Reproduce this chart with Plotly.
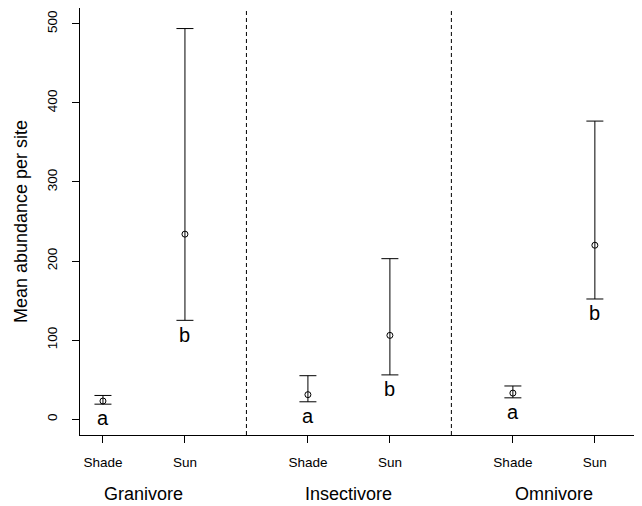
import plotly.graph_objects as go

# Data
groups = ["Granivore", "Insectivore", "Omnivore"]
habitats = ["Shade", "Sun", "Shade", "Sun", "Shade", "Sun"]
x_pos = [1, 2, 3.5, 4.5, 6, 7]
means = [23, 234, 31, 106, 33, 220]
upper = [30, 494, 55, 203, 42, 377]
lower = [19, 125, 22, 56, 27, 152]
letters = ["a", "b", "a", "b", "a", "b"]
group_centers = [1.5, 4.0, 6.5]
dividers = [2.75, 5.25]

FONT = "Liberation Sans, Arial, sans-serif"

fig = go.Figure()
fig.add_trace(go.Scatter(
    x=x_pos, y=means, mode="markers",
    marker=dict(symbol="circle-open", size=6, color="black", line=dict(width=1, color="black")),
    error_y=dict(type="data", symmetric=False,
                 array=[u - m for u, m in zip(upper, means)],
                 arrayminus=[m - l for m, l in zip(means, lower)],
                 color="black", thickness=1, width=8.5),
    showlegend=False, hoverinfo="skip",
))

for xv in dividers:
    fig.add_shape(type="line", xref="x", yref="paper", x0=xv, x1=xv, y0=0, y1=1,
                  line=dict(color="black", width=1, dash="4px,3px"))

for xv, lo, lt in zip(x_pos, lower, letters):
    fig.add_annotation(x=xv, y=lo - 18, text=lt, showarrow=False, xref="x", yref="y",
                       font=dict(size=20, color="black", family=FONT), yanchor="middle")

for xv, g in zip(group_centers, groups):
    fig.add_annotation(x=xv, y=-0.138, text=g, showarrow=False, xref="x", yref="paper",
                       font=dict(size=18, color="black", family=FONT), yanchor="middle")

fig.update_layout(
    width=634, height=498,
    margin=dict(l=72, r=0, t=0, b=71),
    plot_bgcolor="white", paper_bgcolor="white",
    font=dict(family=FONT, color="black"),
    xaxis=dict(range=[0.72, 7.575], tickvals=x_pos, ticktext=habitats,
               showgrid=False, zeroline=False, showline=True, mirror=True,
               linecolor="black", linewidth=1, ticks="outside", ticklen=7,
               tickcolor="black", tickfont=dict(size=13.5, family=FONT),
               ticklabelstandoff=8),
    yaxis=dict(range=[-20, 520], tickvals=[0, 100, 200, 300, 400, 500],
               showgrid=False, zeroline=False, showline=True, mirror=False,
               linecolor="black", linewidth=1, ticks="outside", ticklen=7,
               tickcolor="black", tickangle=-90, tickfont=dict(size=13.5, family=FONT),
               ticklabelstandoff=10,
               title=dict(text="Mean abundance per site", font=dict(size=18, family=FONT),
                          standoff=12)),
)

fig.write_html("out.html")
